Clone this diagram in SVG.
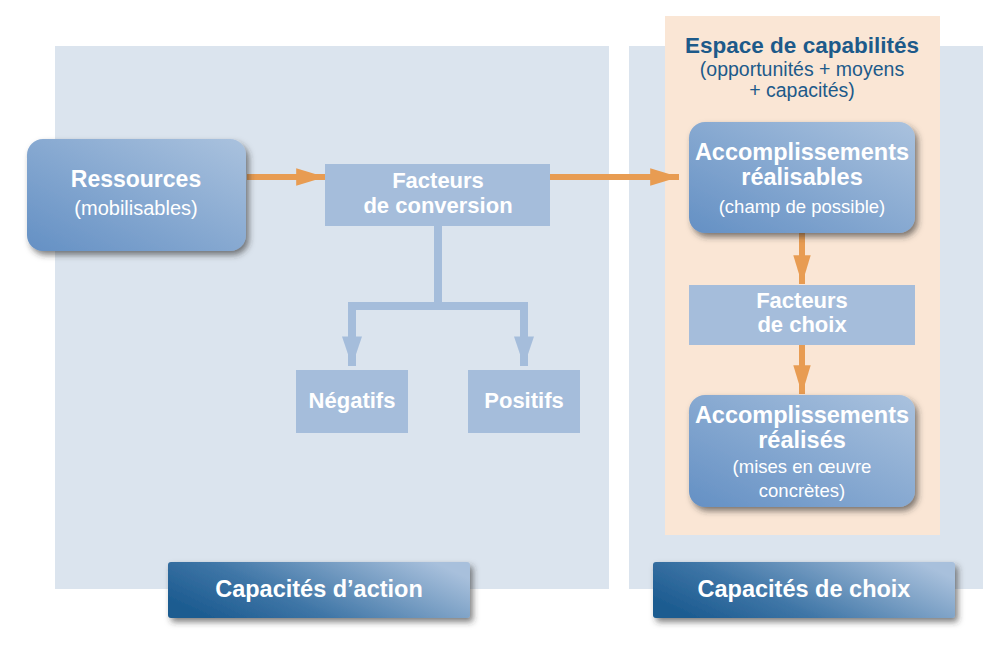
<svg xmlns="http://www.w3.org/2000/svg" width="998" height="658" viewBox="0 0 998 658">
<defs>
<style>
.t{font-family:"Liberation Sans",Arial,sans-serif;fill:#ffffff;text-anchor:middle}
.b{font-weight:bold}
.d{fill:#1d5a8a}
.flat{fill:#a5bddb}
.panel{fill:#dbe4ee}
.blue{stroke:#a5bddb;stroke-width:8;fill:none}
.orange{stroke:#e89c52;stroke-width:6;fill:none}
</style>
<linearGradient id="gNode" x1="0" y1="1" x2="1" y2="0">
<stop offset="0" stop-color="#6490c4"/>
<stop offset="1" stop-color="#aac2de"/>
</linearGradient>
<linearGradient id="gBtn" x1="0" y1="0.7" x2="1" y2="0.3">
<stop offset="0" stop-color="#1c5b90"/>
<stop offset="0.35" stop-color="#3e75a6"/>
<stop offset="1" stop-color="#a8c0dc"/>
</linearGradient>
<filter id="sh" x="-10%" y="-10%" width="125%" height="135%">
<feDropShadow dx="3" dy="4" stdDeviation="3" flood-color="#2a2a2a" flood-opacity="0.6"/>
</filter>
<marker id="ao" viewBox="0 0 10 10" refX="10" refY="5" markerWidth="4.8" markerHeight="2.9" markerUnits="strokeWidth" orient="auto" preserveAspectRatio="none">
<path d="M0,0 L10,5 L0,10 Z" fill="#e89c52"/>
</marker>
<marker id="ab" viewBox="0 0 10 10" refX="10" refY="5" markerWidth="3.7" markerHeight="2.5" markerUnits="strokeWidth" orient="auto" preserveAspectRatio="none">
<path d="M0,0 L10,5 L0,10 Z" fill="#a5bddb"/>
</marker>
</defs>
<rect x="0" y="0" width="998" height="658" fill="#ffffff"/>
<g id="panel-action"><rect class="panel" x="55" y="46" width="554" height="543"/></g>
<g id="panel-choix"><rect class="panel" x="629" y="46" width="354" height="543"/></g>
<g id="espace-capabilites">
<rect x="665" y="16" width="275" height="519" fill="#fae6d5"/>
<text class="t b d" x="802" y="53" font-size="22.5">Espace de capabilités</text>
<text class="t d" x="802" y="76" font-size="19.5">(opportunités + moyens</text>
<text class="t d" x="802" y="97" font-size="19.5">+ capacités)</text>
</g>
<g id="connectors">
<line class="orange" x1="247" y1="177" x2="325" y2="177" marker-end="url(#ao)"/>
<line class="orange" x1="550" y1="177" x2="679" y2="177" marker-end="url(#ao)"/>
<line class="orange" x1="802" y1="233" x2="802" y2="284" marker-end="url(#ao)"/>
<line class="orange" x1="802" y1="345" x2="802" y2="394" marker-end="url(#ao)"/>
<path class="blue" d="M438,226 V306 M348,306 H528"/>
<line class="blue" x1="352" y1="302" x2="352" y2="366" marker-end="url(#ab)"/>
<line class="blue" x1="524" y1="302" x2="524" y2="366" marker-end="url(#ab)"/>
</g>
<g id="ressources">
<rect x="27" y="139" width="219" height="112" rx="16" fill="url(#gNode)" filter="url(#sh)"/>
<text class="t b" x="136" y="187" font-size="23">Ressources</text>
<text class="t" x="136" y="215" font-size="20">(mobilisables)</text>
</g>
<g id="facteurs-conversion">
<rect class="flat" x="325" y="164" width="225" height="62"/>
<text class="t b" x="438" y="188" font-size="22">Facteurs</text>
<text class="t b" x="438" y="213" font-size="22">de conversion</text>
</g>
<g id="negatifs">
<rect class="flat" x="296" y="370" width="112" height="63"/>
<text class="t b" x="352" y="408" font-size="22">Négatifs</text>
</g>
<g id="positifs">
<rect class="flat" x="468" y="370" width="112" height="63"/>
<text class="t b" x="524" y="408" font-size="22">Positifs</text>
</g>
<g id="accomplissements-realisables">
<rect x="689" y="122" width="226" height="111" rx="16" fill="url(#gNode)" filter="url(#sh)"/>
<text class="t b" x="802" y="160" font-size="23.5">Accomplissements</text>
<text class="t b" x="802" y="185" font-size="23.5">réalisables</text>
<text class="t" x="802" y="213" font-size="18.5">(champ de possible)</text>
</g>
<g id="facteurs-choix">
<rect class="flat" x="689" y="285" width="226" height="60"/>
<text class="t b" x="802" y="308" font-size="22">Facteurs</text>
<text class="t b" x="802" y="332" font-size="22">de choix</text>
</g>
<g id="accomplissements-realises">
<rect x="689" y="395" width="226" height="112" rx="16" fill="url(#gNode)" filter="url(#sh)"/>
<text class="t b" x="802" y="423" font-size="23.5">Accomplissements</text>
<text class="t b" x="802" y="448" font-size="23.5">réalisés</text>
<text class="t" x="802" y="473" font-size="18.5">(mises en œuvre</text>
<text class="t" x="802" y="497" font-size="18.5">concrètes)</text>
</g>
<g id="capacites-action">
<rect x="168" y="562" width="302" height="56" rx="3" fill="url(#gBtn)" filter="url(#sh)"/>
<text class="t b" x="319" y="597" font-size="23.5">Capacités d’action</text>
</g>
<g id="capacites-choix">
<rect x="653" y="562" width="302" height="56" rx="3" fill="url(#gBtn)" filter="url(#sh)"/>
<text class="t b" x="804" y="597" font-size="23.5">Capacités de choix</text>
</g>
</svg>
